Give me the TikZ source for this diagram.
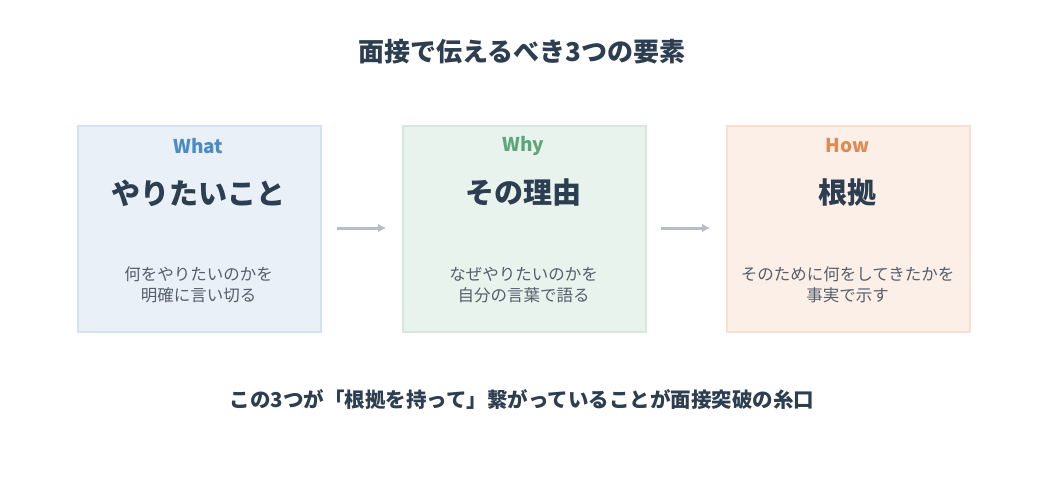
\documentclass[tikz,border=0pt]{standalone}
\usepackage{fontspec}
\setmainfont{Noto Sans CJK JP}
\usetikzlibrary{arrows.meta}
\definecolor{ink}{HTML}{2C3E50}
\definecolor{sub}{HTML}{555F6B}
\definecolor{arr}{HTML}{B8BCC8}
\begin{document}
\begin{tikzpicture}[x=1pt,y=-1pt,
 box/.style={draw,line width=2pt,minimum width=243pt,minimum height=206pt,anchor=north west},
 tag/.style={font=\bfseries\fontsize{19}{22}\selectfont},
 head/.style={text=ink,font=\bfseries\fontsize{29}{34}\selectfont},
 desc/.style={text=sub,align=center,font=\fontsize{16.5}{21}\selectfont},
 ar/.style={draw=arr,line width=3pt,-{Latex[length=8pt,width=9pt]}}]
\useasboundingbox (0,0) rectangle (1045,484);
\node[text=ink,font=\bfseries\fontsize{26}{30}\selectfont] (title) at (522,52) {面接で伝えるべき3つの要素};
\node[box,fill={rgb,255:red,233;green,240;blue,248},draw={rgb,255:red,211;green,226;blue,242}] (b1) at (77,125) {};
\node[box,fill={rgb,255:red,233;green,243;blue,238},draw={rgb,255:red,214;green,232;blue,221}] (b2) at (402,125) {};
\node[box,fill={rgb,255:red,252;green,239;blue,231},draw={rgb,255:red,249;green,223;blue,208}] (b3) at (726,125) {};
\node[tag,text={rgb,255:red,74;green,140;blue,196}] (t1) at (198.5,146) {What};
\node[tag,text={rgb,255:red,95;green,165;blue,122}] (t2) at (523.5,146) {Why};
\node[tag,text={rgb,255:red,224;green,138;blue,80}] (t3) at (847.5,146) {How};
\node[head] (h1) at (198.5,193) {やりたいこと};
\node[head] (h2) at (523.5,193) {その理由};
\node[head] (h3) at (847.5,193) {根拠};
\node[desc] (d1) at (198.5,285) {何をやりたいのかを\\明確に言い切る};
\node[desc] (d2) at (523.5,285) {なぜやりたいのかを\\自分の言葉で語る};
\node[desc] (d3) at (847.5,285) {そのために何をしてきたかを\\事実で示す};
\coordinate (a1) at (337,228); \coordinate (a2) at (386,228);
\coordinate (a3) at (661,228); \coordinate (a4) at (710,228);
\draw[ar] (a1) -- (a2);
\draw[ar] (a3) -- (a4);
\node[text=ink,font=\bfseries\fontsize{20.5}{24}\selectfont] (foot) at (522,400) {この3つが「根拠を持って」繋がっていることが面接突破の糸口};
\end{tikzpicture}
\end{document}
